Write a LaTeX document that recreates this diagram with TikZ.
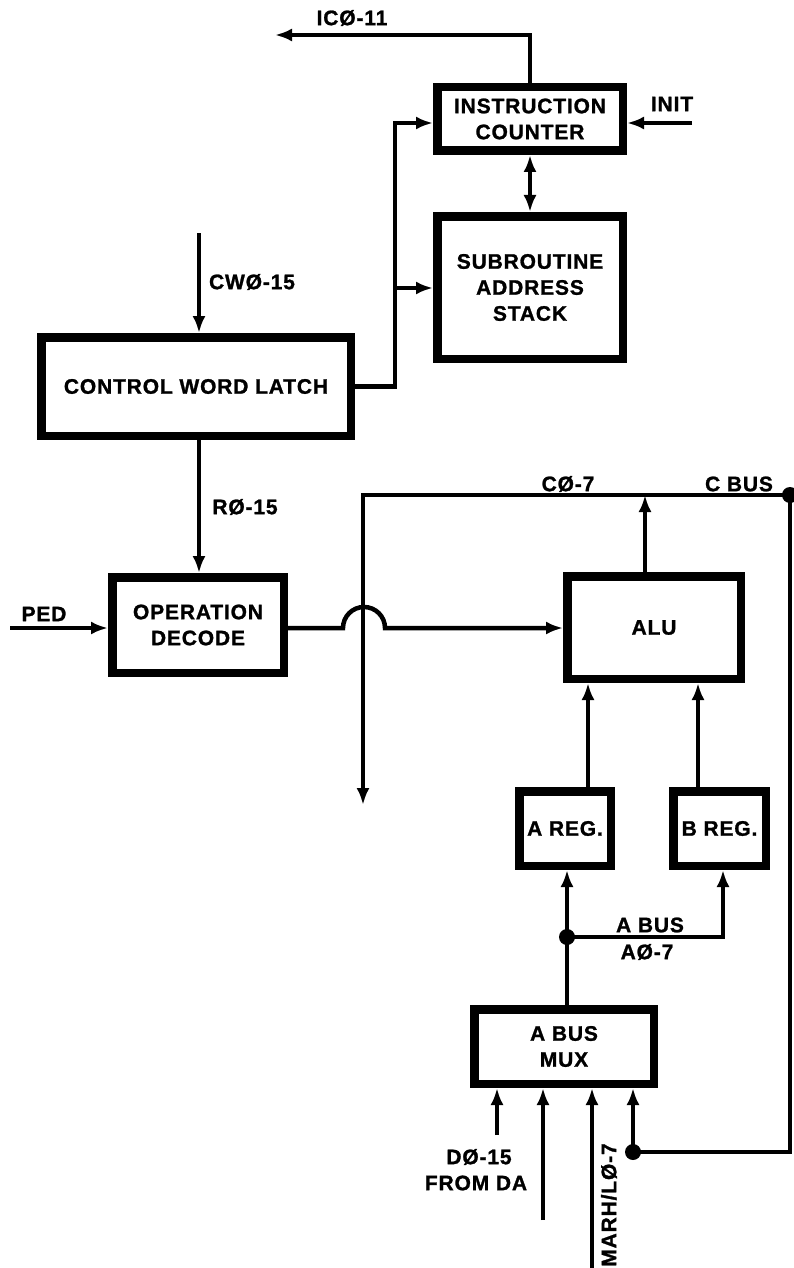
\documentclass[tikz,border=0pt]{standalone}
\usepackage{fontspec}
\setmainfont{Liberation Sans}[LetterSpace=4, BoldFeatures={FakeBold=1.2}]
\usetikzlibrary{arrows.meta}
\begin{document}
\begin{tikzpicture}[x=1pt,y=-1pt,
  txt/.style={font=\fontsize{21}{26}\selectfont\bfseries, inner sep=0pt, align=center},
  blk/.style={draw, line width=8.5pt, txt},
  con/.style={line width=4.5pt},
  arr/.style={con, -{Latex[length=17pt,width=13pt]}},
  biarr/.style={con, {Latex[length=17pt,width=13pt]}-{Latex[length=17pt,width=13pt]}},
  jdot/.style={circle, fill, inner sep=0pt, minimum size=16pt}]
\useasboundingbox (0,0) rectangle (794,1268);

% blocks
\node[blk, minimum width=185.5, minimum height=63.5] (ic) at (530,119) {INSTRUCTION\\COUNTER};
\node[blk, minimum width=185.5, minimum height=142.5] (sas) at (530,287.5) {SUBROUTINE\\ADDRESS\\STACK};
\node[blk, minimum width=309.5, minimum height=98.5] (cwl) at (196,386.5) {CONTROL WORD LATCH};
\node[blk, minimum width=171.5, minimum height=95.5] (dec) at (198,625) {OPERATION\\DECODE};
\node[blk, minimum width=173.5, minimum height=102.5] (alu) at (654,627.5) {ALU};
\node[blk, minimum width=91.5, minimum height=74.5] (areg) at (565,828.5) {A REG.};
\node[blk, minimum width=92.5, minimum height=74.5] (breg) at (719.5,828.5) {B REG.};
\node[blk, minimum width=179.5, minimum height=74.5] (mux) at (564,1046.5) {A BUS\\MUX};

% labels
\node[txt] (lic) at (352,18) {ICØ-11};
\node[txt] (linit) at (672,104) {INIT};
\node[txt] (lcw) at (252,282) {CWØ-15};
\node[txt] (lr) at (245,507) {RØ-15};
\node[txt] (lped) at (44,614) {PED};
\node[txt] (lc) at (568,484) {CØ-7};
\node[txt] (lcbus) at (739,484) {C BUS};
\node[txt] (labus) at (650,925) {A BUS};
\node[txt] (la) at (647,952) {AØ-7};
\node[txt] (ld) at (479,1157) {DØ-15};
\node[txt] (lfrom) at (476,1183) {FROM DA};
\node[txt, rotate=90] (lmarh) at (609,1205) {MARH/LØ-7};

% coordinates
\coordinate (ico) at (275,35);
\coordinate (init) at (692,123);
\coordinate (fbt) at (395,123);
\coordinate (fbm) at (395,288);
\coordinate (cw) at (199,233);
\coordinate (ped) at (10,628);
\coordinate (cbl) at (363,495);
\coordinate (cbr) at (790,495);
\coordinate (vdown) at (363,805);
\coordinate (cbd) at (790,1152);
\coordinate (mdot) at (633,1152);
\coordinate (alux) at (645,495);
\coordinate (ax) at (588,700);
\coordinate (bx) at (698,700);
\coordinate (abx) at (567,937);
\coordinate (bbx) at (723,937);
\coordinate (m1) at (497,1135);
\coordinate (m2) at (543,1220);
\coordinate (m3) at (592,1268);
\coordinate (j1) at (343,628);

% connectors
\draw[arr] (ic.north) |- (ico);
\draw[arr] (init) -- (init -| ic.east);
\draw[biarr] (ic.south) -- (sas.north);
\draw[arr] (cwl.east) -| (fbt) -- (fbt -| ic.west);
\draw[arr] (fbm) -- (fbm -| sas.west);
\draw[arr] (cw) -- (cw |- cwl.north);
\draw[arr] (cwl.south -| cw) -- (dec.north -| cw);
\draw[arr] (ped) -- (ped -| dec.west);
\draw[arr] (dec.east |- j1) -- (j1) arc[start angle=180, end angle=360, radius=21] -- (j1 -| alu.west);
\draw[arr] (cbr) -- (cbl) -- (vdown);
\draw[arr] (alu.north -| alux) -- (alux);
\draw[arr] (areg.north -| ax) -- (alu.south -| ax);
\draw[arr] (breg.north -| bx) -- (alu.south -| bx);
\draw[arr] (mux.north -| abx) -- (areg.south -| abx);
\draw[arr] (abx) -- (bbx) -- (breg.south -| bbx);
\draw[con] (cbr) -- (cbd) -- (mdot);
\draw[arr] (mdot) -- (mdot |- mux.south);
\draw[arr] (m1) -- (m1 |- mux.south);
\draw[arr] (m2) -- (m2 |- mux.south);
\draw[arr] (m3) -- (m3 |- mux.south);

% junction dots
\node[jdot] (d1) at (cbr) {};
\node[jdot] (d2) at (mdot) {};
\node[jdot] (d3) at (abx) {};
\end{tikzpicture}
\end{document}
